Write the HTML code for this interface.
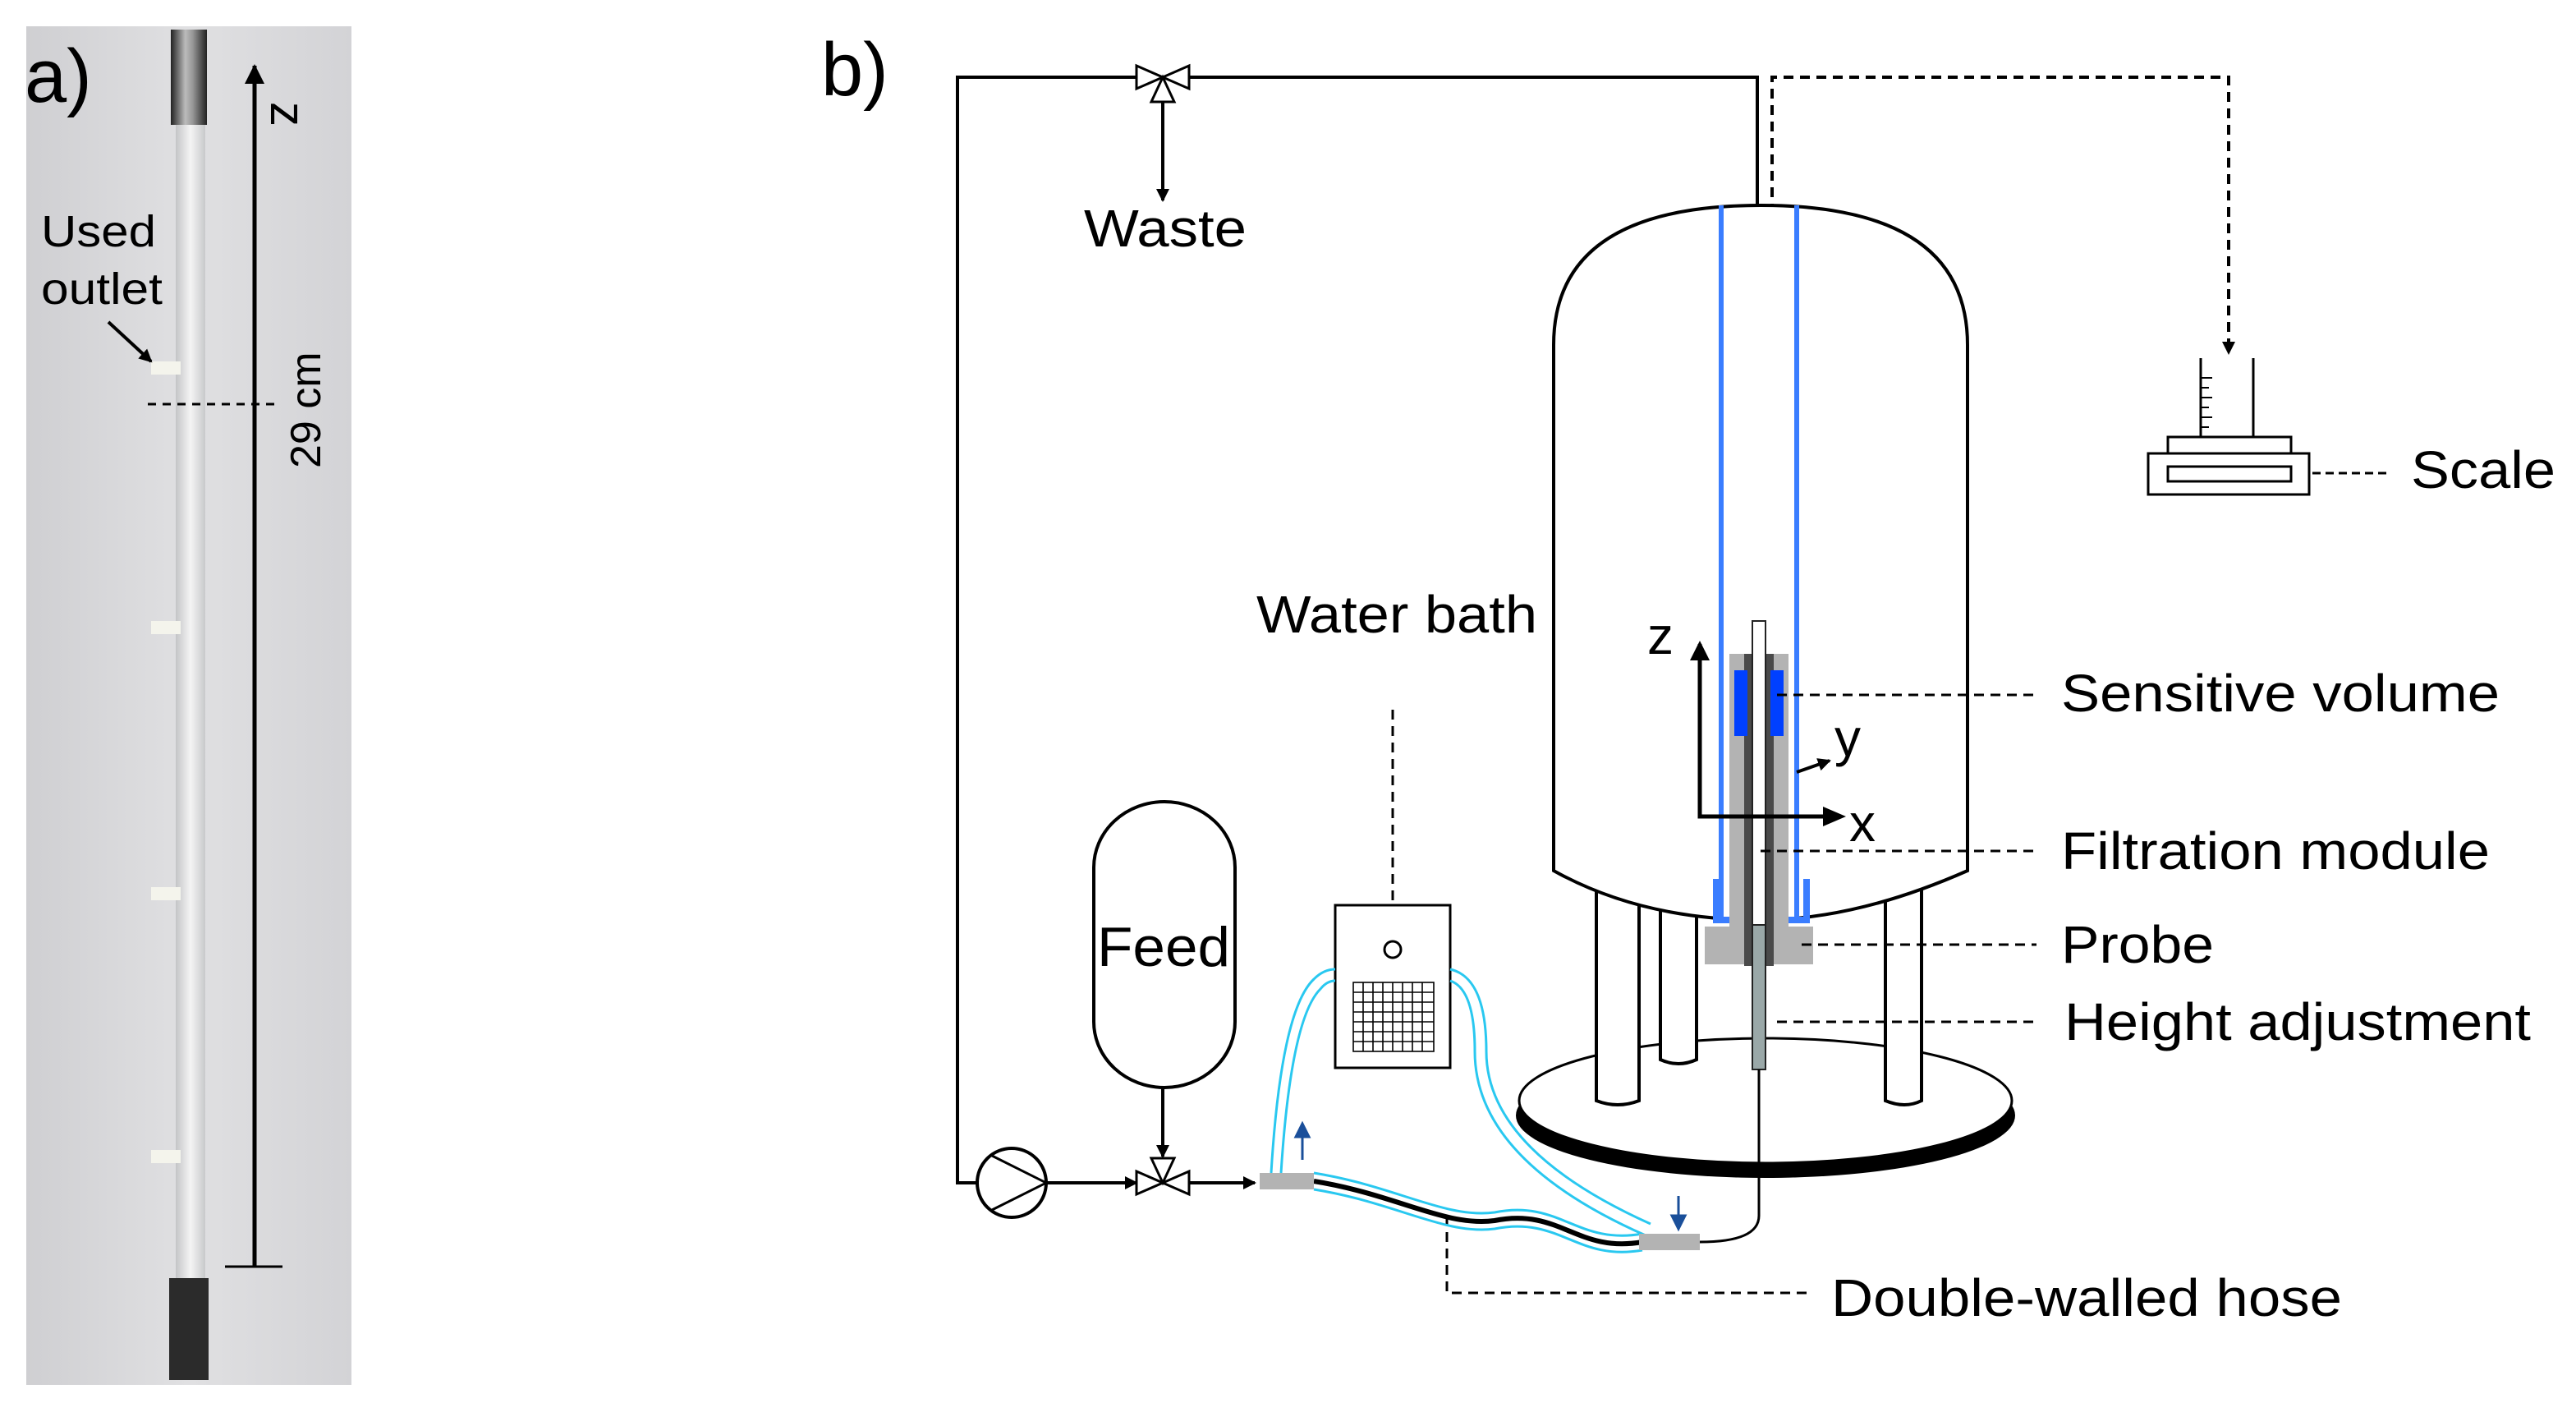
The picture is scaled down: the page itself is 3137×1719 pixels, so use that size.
<!DOCTYPE html>
<html><head><meta charset="utf-8"><style>
html,body{margin:0;padding:0;background:#fff}
svg{display:block}
text{font-family:"Liberation Sans",sans-serif;fill:#000}
</style></head><body>
<svg width="3137" height="1719" viewBox="0 0 1568.5 859.5" xmlns="http://www.w3.org/2000/svg">
<defs>
<linearGradient id="bg" x1="0" x2="1" y1="0" y2="0"><stop offset="0" stop-color="#cfcfd2"/><stop offset="0.5" stop-color="#e0e0e2"/><stop offset="1" stop-color="#d3d3d6"/></linearGradient>
<linearGradient id="metal" x1="0" x2="1"><stop offset="0" stop-color="#222"/><stop offset="0.4" stop-color="#bbb"/><stop offset="0.6" stop-color="#999"/><stop offset="1" stop-color="#222"/></linearGradient>
<linearGradient id="tube" x1="0" x2="1"><stop offset="0" stop-color="#c4c5c7"/><stop offset="0.5" stop-color="#f4f4f4"/><stop offset="1" stop-color="#c8c9cb"/></linearGradient>
<marker id="ah" markerWidth="8" markerHeight="8" refX="7" refY="4" orient="auto" markerUnits="userSpaceOnUse"><path d="M0,0 L8,4 L0,8z" fill="#000"/></marker>
<marker id="ahb" markerWidth="12" markerHeight="12" refX="11" refY="6" orient="auto" markerUnits="userSpaceOnUse"><path d="M0,0 L12,6 L0,12z" fill="#000"/></marker>
</defs>
<!-- a) photo -->
<rect x="16" y="16" width="198" height="827" fill="url(#bg)"/>
<rect x="107" y="70" width="18" height="712" fill="url(#tube)"/>
<rect x="104" y="18" width="22" height="58" fill="url(#metal)"/>
<rect x="103" y="778" width="24" height="62" fill="#2b2b2b"/>
<g fill="#f4f4ec">
<rect x="92" y="220" width="18" height="8"/><rect x="92" y="378" width="18" height="8"/><rect x="92" y="540" width="18" height="8"/><rect x="92" y="700" width="18" height="8"/>
</g>
<text x="15" y="62" font-size="46">a)</text>
<text x="25" y="150" font-size="27" textLength="70" lengthAdjust="spacingAndGlyphs">Used</text>
<text x="25" y="185" font-size="27" textLength="74" lengthAdjust="spacingAndGlyphs">outlet</text>
<line x1="66" y1="196" x2="92" y2="220" stroke="#000" stroke-width="2" marker-end="url(#ah)"/>
<line x1="155" y1="771" x2="155" y2="40" stroke="#000" stroke-width="2.5" marker-end="url(#ahb)"/>
<line x1="137" y1="771" x2="172" y2="771" stroke="#000" stroke-width="1.5"/>
<line x1="90" y1="246" x2="168" y2="246" stroke="#000" stroke-width="1.5" stroke-dasharray="5,4"/>
<text transform="translate(165,62) rotate(90)" font-size="30">z</text>
<text transform="translate(195,285) rotate(-90)" font-size="26">29 cm</text>
<!-- b) -->
<text x="500" y="58" font-size="46">b)</text>
<polyline points="595,720 583,720 583,47 1070,47 1070,380" fill="none" stroke="#000" stroke-width="2"/>
<polyline points="1079,380 1079,47 1357,47 1357,215" fill="none" stroke="#000" stroke-width="2" stroke-dasharray="6,4" marker-end="url(#ah)"/>
<g stroke="#000" stroke-width="1.5" fill="#fff">
<path d="M692,40 L708,47 L692,54z"/><path d="M724,40 L708,47 L724,54z"/><path d="M701,62 L708,47 L715,62z"/>
</g>
<line x1="708" y1="62" x2="708" y2="122" stroke="#000" stroke-width="2" marker-end="url(#ah)"/>
<text x="660" y="150" font-size="32" textLength="99" lengthAdjust="spacingAndGlyphs">Waste</text>
<circle cx="616" cy="720" r="21" fill="#fff" stroke="#000" stroke-width="2"/>
<path d="M603,703 L637,720 L603,737" fill="none" stroke="#000" stroke-width="1.5"/>
<line x1="637" y1="720" x2="692" y2="720" stroke="#000" stroke-width="2" marker-end="url(#ah)"/>
<g stroke="#000" stroke-width="1.5" fill="#fff">
<path d="M692,713 L708,720 L692,727z"/><path d="M724,713 L708,720 L724,727z"/><path d="M701,705 L708,720 L715,705z"/>
</g>
<line x1="724" y1="720" x2="764" y2="720" stroke="#000" stroke-width="2" marker-end="url(#ah)"/>
<rect x="666" y="488" width="86" height="174" rx="43" ry="40" fill="#fff" stroke="#000" stroke-width="2"/>
<text x="668" y="588" font-size="34" textLength="81" lengthAdjust="spacingAndGlyphs">Feed</text>
<line x1="708" y1="662" x2="708" y2="704" stroke="#000" stroke-width="2" marker-end="url(#ah)"/>
<!-- scale -->
<line x1="1340" y1="218" x2="1340" y2="266" stroke="#000" stroke-width="1.5"/>
<line x1="1372" y1="218" x2="1372" y2="266" stroke="#000" stroke-width="1.5"/>
<g stroke="#000" stroke-width="1"><line x1="1340" y1="230" x2="1347" y2="230"/><line x1="1340" y1="236" x2="1345" y2="236"/><line x1="1340" y1="242" x2="1347" y2="242"/><line x1="1340" y1="248" x2="1345" y2="248"/><line x1="1340" y1="254" x2="1347" y2="254"/><line x1="1340" y1="260" x2="1345" y2="260"/></g>
<rect x="1320" y="266" width="75" height="10" fill="#fff" stroke="#000" stroke-width="1.5"/>
<rect x="1308" y="276" width="98" height="25" fill="#fff" stroke="#000" stroke-width="1.5"/>
<rect x="1320" y="284" width="75" height="9" fill="#fff" stroke="#000" stroke-width="1.5"/>
<line x1="1408" y1="288" x2="1455" y2="288" stroke="#000" stroke-width="1.5" stroke-dasharray="5,3"/>
<text x="1468" y="297" font-size="32" textLength="88" lengthAdjust="spacingAndGlyphs">Scale</text>
<!-- base -->
<ellipse cx="1075" cy="679" rx="152" ry="38" fill="#000"/>
<ellipse cx="1075" cy="670" rx="150" ry="38" fill="#fff" stroke="#000" stroke-width="1.5"/>
<g fill="#fff" stroke="#000" stroke-width="2">
<path d="M972,530 L972,670 Q985,675 998,670 L998,530"/>
<path d="M1011,530 L1011,645 Q1022,650 1033,645 L1033,530"/>
<path d="M1148,530 L1148,670 Q1160,675 1170,670 L1170,530"/>
</g>
<path d="M946,210 Q946,125 1072,125 Q1198,125 1198,210 L1198,530 Q1130,560 1072,560 Q1000,560 946,530 Z" fill="#fff" stroke="#000" stroke-width="2"/>
<line x1="1048" y1="125" x2="1048" y2="560" stroke="#3a7dff" stroke-width="3"/>
<line x1="1094" y1="125" x2="1094" y2="560" stroke="#3a7dff" stroke-width="3"/>
<path d="M1045,535 L1045,560 L1100,560 L1100,535" fill="none" stroke="#3a7dff" stroke-width="4"/>
<rect x="1053" y="398" width="36" height="170" fill="#b3b3b3"/>
<rect x="1038" y="564" width="66" height="23" fill="#b3b3b3"/>
<rect x="1062" y="398" width="18" height="190" fill="#4a4a4a"/>
<rect x="1056" y="408" width="8" height="40" fill="#0040ff"/>
<rect x="1078" y="408" width="8" height="40" fill="#0040ff"/>
<rect x="1067" y="378" width="8" height="185" fill="#fff" stroke="#222" stroke-width="1"/>
<rect x="1067" y="563" width="8" height="88" fill="#9aa8a8" stroke="#222" stroke-width="1"/>
<path d="M1071,651 L1071,740 Q1071,756 1035,756" fill="none" stroke="#000" stroke-width="1.5"/>
<polyline points="1035,392 1035,497 1120,497" fill="none" stroke="#000" stroke-width="2.5"/>
<path d="M1029,402 L1035,390 L1041,402z" fill="#000"/>
<path d="M1110,491 L1124,497 L1110,503z" fill="#000"/>
<line x1="1094" y1="470" x2="1114" y2="463" stroke="#000" stroke-width="2" marker-end="url(#ah)"/>
<text x="1003" y="398" font-size="32">z</text>
<text x="1126" y="512" font-size="32">x</text>
<text x="1117" y="460" font-size="32">y</text>
<g stroke="#000" stroke-width="1.5" stroke-dasharray="6,4">
<line x1="1082" y1="423" x2="1240" y2="423"/>
<line x1="1072" y1="518" x2="1240" y2="518"/>
<line x1="1097" y1="575" x2="1240" y2="575"/>
<line x1="1082" y1="622" x2="1240" y2="622"/>
<polyline points="881,740 881,787 1100,787" fill="none"/>
<line x1="848" y1="432" x2="848" y2="551"/>
</g>
<text x="1255" y="433" font-size="32" textLength="267" lengthAdjust="spacingAndGlyphs">Sensitive volume</text>
<text x="1255" y="529" font-size="32" textLength="261" lengthAdjust="spacingAndGlyphs">Filtration module</text>
<text x="1255" y="586" font-size="32" textLength="93" lengthAdjust="spacingAndGlyphs">Probe</text>
<text x="1257" y="633" font-size="32" textLength="284" lengthAdjust="spacingAndGlyphs">Height adjustment</text>
<text x="1115" y="801" font-size="32" textLength="311" lengthAdjust="spacingAndGlyphs">Double-walled hose</text>
<text x="765" y="385" font-size="32" textLength="171" lengthAdjust="spacingAndGlyphs">Water bath</text>
<rect x="813" y="551" width="70" height="99" fill="#fff" stroke="#000" stroke-width="1.5"/>
<circle cx="848" cy="578" r="5" fill="#fff" stroke="#000" stroke-width="1.5"/>
<g stroke="#000" stroke-width="0.8">
<rect x="824" y="598" width="49" height="42" fill="#fff"/>
<path d="M830,598V640M836,598V640M842,598V640M848,598V640M854,598V640M860,598V640M866,598V640M824,604H873M824,610H873M824,616H873M824,622H873M824,628H873M824,634H873"/>
</g>
<g fill="none" stroke="#29c8f0" stroke-width="1.5">
<path d="M774,714 Q780,615 800,596 Q806,590 813,590"/>
<path d="M780,714 Q786,620 804,602 Q808,597 813,597"/>
<path d="M883,590 Q905,595 905,640 Q905,700 1005,745"/>
<path d="M883,597 Q898,602 898,640 Q898,706 1002,752"/>
<path d="M800,714 C850,722 880,742 910,738 C950,730 960,758 1000,751"/>
<path d="M800,724 C850,732 880,752 910,748 C950,740 960,768 1000,761"/>
</g>
<path d="M800,719 C850,727 880,747 910,743 C950,735 960,763 1000,756" fill="none" stroke="#000" stroke-width="3"/>
<rect x="767" y="714" width="33" height="10" fill="#b3b3b3"/>
<rect x="998" y="751" width="37" height="10" fill="#b3b3b3"/>
<g stroke="#1a4f9a" stroke-width="1.5" fill="#1a4f9a">
<line x1="793" y1="706" x2="793" y2="690"/><path d="M789,692 L793,684 L797,692z"/>
<line x1="1022" y1="728" x2="1022" y2="742"/><path d="M1018,740 L1022,748 L1026,740z"/>
</g>
</svg>
</body></html>
